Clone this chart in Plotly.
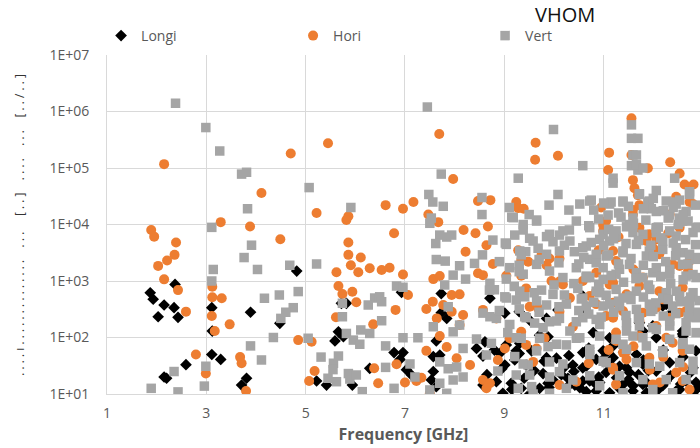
import plotly.graph_objects as go

# Longitudinal modes (black diamonds)
longi_freq = [1.87, 1.93, 2.37, 2.15, 2.35, 2.03, 2.43, 3.11, 3.89, 3.12, 4.48, 4.82, 3.11, 3.29, 2.59,
              2.15, 2.20, 3.81, 3.71,
              5.72, 5.82, 5.66, 5.59, 5.76, 6.93, 7.73, 7.73, 7.84, 6.78, 6.96, 7.63, 7.70, 7.57, 7.03,
              7.13, 6.29, 7.57, 7.53, 7.63, 5.22, 5.42, 5.94, 6.90,
              8.71, 9.01, 9.30, 9.51, 10.08, 9.85, 8.44, 8.61, 8.91, 9.04, 9.31, 9.71, 9.88, 9.21, 9.01,
              9.44, 10.05, 10.21, 10.38, 9.78, 9.98, 10.28, 10.42, 8.57, 8.84, 9.14, 9.34, 9.71, 9.88,
              9.51, 8.97, 8.57, 9.24, 9.55, 9.85,
              10.58, 10.72, 10.85, 10.32, 10.52, 10.99, 11.19, 11.26, 11.39, 11.59, 11.79, 12.06, 12.26,
              12.46, 12.66, 12.80, 11.79, 11.66, 12.26, 12.33, 11.12, 12.59,
              10.58, 10.65, 10.79, 10.58, 10.85, 11.05, 10.65, 11.19, 11.32, 10.92, 11.59, 11.86, 12.19,
              11.12, 11.86, 12.53, 12.80, 12.86, 11.52, 12.33, 11.99, 12.19, 11.72, 12.60,
              11.79, 12.06, 12.59, 11.12, 11.46, 10.58, 10.85, 12.86,
              8.65, 8.95, 9.15, 9.40, 9.60, 9.90, 10.15, 10.40, 10.65, 10.90, 11.05, 11.30, 11.50, 11.70,
              11.90, 12.10, 12.35, 12.55, 12.75, 12.90,
              8.80, 9.30, 9.80, 10.30, 10.70, 11.00, 11.40, 11.80, 12.20, 12.60]
longi_val = [620, 475, 870, 376, 337, 233, 228, 337, 280, 130, 178, 1500, 50, 41, 33,
             20, 19, 19, 14.4,
             403, 403, 126, 87, 103, 630, 600, 275, 218, 54, 54, 87, 49, 46, 27,
             21.7, 28.5, 25, 17.7, 13.5, 17, 14.4, 14.4, 41,
             495, 270, 287, 203, 308, 218, 64, 84, 52.5, 74, 79, 110, 103, 40, 32.6,
             32.6, 43, 30, 32.6, 23, 17.7, 19, 14.4, 14.4, 16.5, 15.5, 12.6, 12.6, 15.5,
             10, 10.3, 47, 58, 58, 44,
             29, 17, 11.3, 14.8, 12.9, 58, 44, 19.4, 14.8, 11.3, 14.8, 25.5, 17,
             11.3, 17, 29, 33.6, 50, 387, 256, 99, 130,
             542, 275, 122, 54, 41, 54, 31, 71, 31, 16, 14, 16, 14,
             10.5, 10.5, 12, 10.5, 16, 24, 36, 160, 361, 183, 106,
             130, 99, 115, 34, 29, 17, 14.8, 58,
             22, 28, 12, 19, 26, 13, 22, 25, 11, 20, 24, 13, 18, 22,
             26, 12, 21, 15, 24, 13,
             60, 52, 38, 48, 65, 42, 55, 40, 60, 45]

# Horizontal modes (orange circles)
hori_freq = [2.15, 4.70, 4.11, 3.29, 3.88, 4.49, 1.89, 1.95, 2.39, 2.36, 2.21, 2.03, 2.15, 2.43, 3.12,
             3.12, 3.31, 2.59, 3.11, 3.47, 3.17, 2.79, 3.68, 3.71, 2.99, 3.80, 4.85,
             5.45, 7.69, 5.22, 5.86, 5.82, 6.61, 6.96, 7.17, 7.47, 7.67, 6.78, 5.86, 5.86, 6.11, 5.91,
             6.06, 6.29, 6.53, 6.69, 5.62, 6.96, 7.57, 7.70, 5.66, 5.74, 5.94, 6.02, 7.06, 5.61, 6.81,
             6.36, 7.43, 7.56, 7.77, 7.64, 5.12, 7.70, 7.84, 7.43, 6.83, 5.18, 5.07, 6.38, 6.46, 7.00,
             7.23, 7.33, 7.50,
             9.63, 9.62, 10.08, 7.97, 8.47, 8.72, 9.24, 9.28, 9.39, 8.18, 8.42, 8.67, 8.64, 8.22, 8.77,
             8.47, 8.57, 9.28, 9.34, 9.48, 9.75, 9.91, 10.11, 9.85, 9.04, 9.34, 9.44, 9.95, 10.11, 8.10,
             7.94, 7.94, 8.17, 8.10, 8.57, 8.84, 9.51, 9.68, 9.34, 9.11, 9.01, 9.44, 9.65, 9.81, 9.58,
             8.04, 8.31, 8.87, 8.57, 8.71, 8.64, 10.11, 10.45, 10.11, 10.38,
             11.56, 11.11, 11.09, 11.56, 11.89, 12.34, 12.53, 12.63, 12.81, 11.59, 11.62, 11.69, 10.95,
             10.99, 11.59, 11.72, 12.46, 12.73,
             10.99, 12.06, 11.86, 10.85, 11.19, 11.72, 12.53, 10.72, 11.19, 11.05, 11.79, 12.19, 12.53,
             12.06, 11.25, 11.72, 11.39, 12.39, 11.19, 11.93, 12.13, 12.46, 12.73, 11.46,
             11.05, 11.59, 11.72, 11.92, 11.86, 12.33, 12.53, 12.80, 11.19, 11.25, 12.12, 12.39, 12.73,
             11.12, 11.46, 11.79, 12.12, 12.59, 10.85, 11.19, 11.39, 11.72, 12.06, 12.33, 12.66,
             11.25, 11.46, 11.19, 11.92, 12.26, 12.59, 11.99, 12.59, 11.25, 10.58, 10.85, 10.18, 10.32,
             10.90, 11.30, 11.60, 12.00, 12.30, 12.70, 10.70, 11.10, 11.60, 12.20, 12.60]
hori_val = [117000, 180000, 36000, 11000, 9200, 5500, 8000, 6100, 4800, 2900, 2300, 1850, 1070, 690, 790,
            515, 495, 287, 240, 171, 130, 50, 45, 35, 23, 11.3, 90,
            275000, 400000, 16000, 14000, 12000, 22000, 19000, 25000, 15000, 11000, 7000, 4800, 2900, 2600, 1900,
            1430, 1680, 1570, 1720, 1430, 1300, 1080, 1230, 815, 590, 645, 420, 565, 228, 308,
            171, 320, 430, 376, 218, 84, 106, 68, 58, 33.6, 25.5, 17, 28.5, 15.5, 16,
            17, 19.4, 10.2,
            280000, 140000, 165000, 64000, 26000, 27000, 25000, 19500, 19000, 8000, 7000, 9200, 4300, 3300, 2000,
            1370, 1270, 3500, 2300, 2200, 2900, 2500, 2500, 1900, 1240, 1240, 740, 1000, 975, 580,
            565, 287, 250, 166, 308, 218, 350, 330, 126, 97, 64, 74, 64, 97, 37,
            43, 32.6, 40, 17.7, 15.5, 12.6, 14.4, 16.5, 287, 155,
            760000, 187000, 92000, 170000, 99000, 126000, 80000, 51000, 51000, 61000, 44000, 33000, 20000,
            9800, 18000, 22000, 31000, 25000,
            7700, 5460, 6250, 1400, 933, 815, 1840, 542, 413, 240, 275, 473, 275,
            160, 122, 106, 54, 81, 27, 27, 16, 24, 12, 41,
            11500, 15000, 8800, 6700, 5100, 15000, 8800, 23000, 3400, 2250, 2970, 1970, 2250,
            870, 580, 1150, 660, 760, 390, 224, 293, 196, 337, 224, 293,
            87, 58, 29, 44, 99, 58, 14.8, 17, 14.8, 1000, 660, 870, 500,
            3500, 6000, 1600, 3800, 7000, 1500, 35, 60, 70, 45, 30]

# Vertical modes (grey squares)
vert_freq = [2.38, 2.99, 3.27, 3.71, 3.81, 3.83, 3.11, 3.91, 3.76, 4.03, 3.14, 3.11, 4.68, 4.85, 4.47,
             4.17, 4.75, 4.60, 4.50, 4.35, 3.89, 4.11, 2.35, 2.99, 1.89, 2.43, 2.96,
             7.45, 5.07, 5.91, 7.73, 7.48, 7.56, 7.77, 7.53, 7.50, 7.70, 7.84, 7.62, 5.22, 7.63, 7.81,
             6.83, 6.96, 7.80, 6.39, 6.49, 6.53, 6.26, 5.74, 5.74, 6.53, 6.11, 6.29, 5.82, 5.96, 6.09,
             5.05, 6.96, 7.26, 6.61, 5.31, 5.56, 5.66, 5.55, 5.45, 5.62, 5.86, 5.89, 6.02, 6.61, 7.10,
             7.20, 6.14, 6.78, 7.50, 7.70, 7.84, 7.70, 7.87, 7.57, 7.87,
             9.99, 9.28, 10.08, 8.55, 8.55, 9.15, 9.65, 7.94, 8.77, 9.02, 9.21, 9.38, 9.51, 9.68, 9.85,
             9.98, 10.11, 10.31, 10.21, 10.41, 9.43, 9.34, 8.56, 8.40, 8.10, 7.97, 8.22, 8.71, 8.70,
             9.04, 9.30, 9.01, 9.24, 9.41, 9.75, 9.85, 10.21, 10.48, 8.57, 8.71, 8.84, 9.41, 9.61, 9.91,
             10.11, 8.10, 7.97, 9.07, 9.34, 9.71, 9.88, 10.25, 8.17, 8.44, 8.64, 8.74, 9.21, 9.48, 9.91,
             8.04, 8.17, 7.97, 8.87, 9.24, 9.51, 9.91, 10.11, 10.38, 10.25, 9.28, 9.55, 9.91, 9.58,
             10.45, 10.45,
             11.56, 11.56, 11.69, 11.59, 11.66, 10.58, 11.56, 11.69, 11.19, 11.19, 12.43, 11.72, 12.06,
             12.73, 10.75, 11.15, 11.39, 11.89, 11.96, 12.39, 12.53, 11.09, 11.59, 12.33, 12.53, 11.46,
             12.06, 12.53,
             10.65, 10.92, 11.25, 11.59, 12.06, 12.46, 12.80, 10.72, 11.05, 11.39, 11.86, 12.19, 12.60,
             12.86, 10.65, 10.99, 11.32, 11.66, 11.99, 12.33, 12.66, 10.92, 11.25, 11.52, 11.93, 12.26,
             12.53, 12.80, 10.65, 10.99, 11.32, 11.66, 11.99, 12.39, 12.73, 10.85, 11.46, 11.72, 12.06,
             12.33, 12.66, 12.86, 10.92, 11.25, 11.59, 12.33, 12.60, 10.72, 11.46, 11.86, 12.19, 12.73,
             11.05, 11.66, 12.13, 12.53, 12.80, 10.72, 11.32, 11.79, 12.26, 12.66, 10.92, 11.99, 12.39,
             11.39,
             10.52, 10.72, 11.12, 11.39, 11.66, 11.79, 11.72, 11.92, 12.06, 12.26, 12.46, 12.66, 12.73,
             9.18, 9.38, 9.65, 9.91, 10.18, 10.45, 10.72, 10.99, 11.25, 11.52, 11.79, 12.06, 12.33, 12.59, 12.86,
             9.04, 9.31, 9.58, 9.85, 10.11, 10.32, 10.58, 10.85, 11.12, 11.39, 11.66, 11.92, 12.19, 12.46, 12.73,
             9.11, 9.38, 9.65, 9.91, 10.18, 10.45, 10.72, 10.99, 11.25, 11.52, 11.79, 12.06, 12.33, 12.59, 12.86,
             9.04, 9.31, 9.65, 9.98, 10.25, 10.58, 10.85, 11.12, 11.39, 11.66, 11.92, 12.19, 12.46, 12.73,
             9.11, 9.44, 9.78, 10.05, 10.32, 10.58, 10.92, 11.46, 11.72, 11.99, 12.33, 12.66, 12.86,
             9.24, 9.65, 10.05, 10.52, 10.72, 11.39, 11.79, 12.19, 12.59, 12.80, 9.38, 10.18, 10.99, 11.92,
             10.80, 11.00, 11.30, 11.50, 11.80, 12.00, 12.20, 12.40, 12.60, 12.85,
             10.70, 10.90, 11.10, 11.35, 11.60, 11.85, 12.10, 12.30, 12.50, 12.70, 12.90,
             10.75, 11.00, 11.20, 11.45, 11.70, 11.95, 12.15, 12.40, 12.65, 12.85,
             10.60, 10.85, 11.10, 11.30, 11.55, 11.80, 12.00, 12.25, 12.45, 12.70, 12.90,
             10.65, 10.90, 11.15, 11.40, 11.65, 11.90, 12.15, 12.35, 12.60, 12.80,
             10.55, 10.80, 11.05, 11.30, 11.55, 11.80, 12.05, 12.30, 12.55, 12.75, 12.92,
             10.70, 10.95, 11.20, 11.45, 11.70, 11.95, 12.20, 12.45, 12.70, 12.90,
             9.10, 9.50, 9.90, 10.30, 8.90, 9.30, 9.70, 10.10, 10.50,
             8.80, 9.20, 9.60, 10.00, 10.40, 8.90, 9.30, 9.70, 10.10, 10.50]
vert_val = [1400000, 520000, 200000, 78000, 84000, 19000, 8900, 4300, 2600, 1600, 1600, 1000, 1900, 650, 565,
            495, 337, 280, 218, 100, 71, 40, 25, 31, 12.6, 10.9, 13.8,
            1200000, 45000, 20000, 78000, 34000, 25000, 21000, 13000, 10500, 6500, 6000, 4600, 2000, 2400, 2250,
            815, 775, 850, 500, 525, 430, 376, 403, 233, 198, 136, 118, 118, 90, 76,
            97, 99, 99, 71, 45, 35, 47, 27, 19, 16.5, 23, 18.4, 21.7, 29.6, 34,
            20, 11, 12.6, 11.8, 15.5, 10.3, 37, 28, 155, 350,
            480000, 66000, 34000, 30000, 15000, 13500, 12000, 6500, 5300, 4700, 6500, 8000, 5700, 3800, 6100,
            4950, 6500, 8000, 4300, 3300, 3300, 2900, 2900, 2050, 1860, 1270, 1080, 910, 690,
            1080, 1460, 525, 460, 525, 690, 376, 565, 740, 270, 233, 218, 233, 180, 190,
            218, 166, 126, 122, 97, 97, 69, 74, 64, 94, 49, 79, 46, 32.6, 37,
            30, 20, 17.7, 25.5, 21.7, 21.7, 20, 24.8, 17.7, 12.6, 12.6, 13.5, 10.3, 10,
            97, 190,
            580000, 335000, 335000, 170000, 170000, 110000, 110000, 92000, 66000, 54000, 66000, 35000, 40000,
            38000, 27000, 25000, 25000, 25000, 19000, 25000, 27000, 14700, 13000, 14700, 13000, 9100,
            8500, 11000,
            4160, 5460, 6250, 7200, 7200, 6250, 7200, 2420, 2770, 3170, 2770, 3630, 3170,
            2420, 1220, 1070, 1610, 1400, 1400, 1610, 1220, 621, 711, 542, 711, 621,
            542, 621, 361, 361, 361, 315, 315, 361, 315, 209, 183, 160, 139,
            160, 183, 122, 106, 93, 106, 93, 81, 62, 62, 71, 54, 62,
            36, 36, 31, 36, 27, 21, 21, 18, 18, 18, 14, 12, 10.5,
            10.5,
            23000, 26000, 23000, 26000, 115000, 100000, 34000, 26000, 17000, 26000, 23000, 17000, 34000,
            13200, 10000, 11500, 6700, 7700, 11500, 8800, 6700, 7700, 10000, 6700, 8800, 7700, 11500, 8800,
            4450, 3400, 5100, 2970, 3400, 5100, 3880, 2970, 5100, 3400, 4450, 3400, 5100, 3880, 2970,
            1720, 1320, 1970, 1500, 1150, 1720, 1150, 1720, 1320, 1970, 1150, 1720, 1320, 1970, 1150,
            500, 660, 445, 580, 390, 500, 660, 390, 500, 660, 390, 500, 660, 445,
            170, 224, 149, 196, 130, 224, 170, 130, 224, 149, 196, 130, 224,
            99, 58, 76, 99, 50, 76, 99, 58, 76, 38, 34, 34, 38, 34,
            18000, 24000, 16000, 21000, 19000, 29000, 17500, 20000, 15000, 22000,
            9500, 12500, 8200, 13500, 10500, 12000, 9000, 13000, 10000, 11500, 9000,
            4800, 4200, 5600, 4600, 5200, 4300, 5800, 4700, 5400, 4400,
            2600, 2100, 2900, 2000, 2500, 1900, 2700, 2200, 2800, 2000, 2600,
            1150, 880, 1250, 950, 1100, 850, 1200, 900, 1050, 1300,
            480, 420, 560, 440, 470, 520, 410, 470, 430, 520, 450,
            260, 230, 280, 245, 220, 290, 240, 265, 230, 280,
            20000, 15000, 22000, 18000, 2200, 1900, 2400, 2100, 2000,
            700, 800, 620, 850, 900, 300, 320, 280, 350, 300]

y_ticks = [1e1, 1e2, 1e3, 1e4, 1e5, 1e6, 1e7]
y_tick_text = ["1E+01", "1E+02", "1E+03", "1E+04", "1E+05", "1E+06", "1E+07"]
x_ticks = [1, 3, 5, 7, 9, 11, 13]

FONT = "Open Sans"
TXT = "#595959"
GRID = "#D9D9D9"

fig = go.Figure()
fig.add_trace(go.Scatter(x=longi_freq, y=longi_val, mode="markers", name="Longi",
                         marker=dict(symbol="diamond", size=9, color="#000000")))
fig.add_trace(go.Scatter(x=hori_freq, y=hori_val, mode="markers", name="Hori",
                         marker=dict(symbol="circle", size=10, color="#ED7D31")))
fig.add_trace(go.Scatter(x=vert_freq, y=vert_val, mode="markers", name="Vert",
                         marker=dict(symbol="square", size=9.5, color="#A5A5A5")))

fig.update_layout(
    width=700, height=448,
    margin=dict(l=107, r=0, t=55, b=54),
    paper_bgcolor="white", plot_bgcolor="white",
    font=dict(family=FONT, size=14, color=TXT),
    showlegend=True,
    legend=dict(orientation="h", x=-0.01, xanchor="left", y=1.056, yanchor="middle",
                entrywidth=147, entrywidthmode="pixels",
                font=dict(family=FONT, size=14, color=TXT), bgcolor="rgba(0,0,0,0)"),
    xaxis=dict(range=[1, 12.94], tickvals=x_ticks, showgrid=True, gridcolor=GRID, gridwidth=1,
               zeroline=False, showline=True, linecolor=GRID, linewidth=1, ticks="",
               ticklabelstandoff=6,
               tickfont=dict(family=FONT, size=14, color=TXT),
               title=dict(text="<b>Frequency [GHz]</b>", standoff=8,
                          font=dict(family=FONT, size=16, color=TXT))),
    yaxis=dict(type="log", range=[1, 7], tickvals=y_ticks, ticktext=y_tick_text,
               showgrid=True, gridcolor=GRID, gridwidth=1, zeroline=False,
               showline=True, linecolor=GRID, linewidth=1, ticks="", ticklabelstandoff=14,
               tickfont=dict(family=FONT, size=14, color=TXT)),
    annotations=[
        dict(text="VHOM", x=0.772, y=1.12, xref="paper", yref="paper", xanchor="center",
             yanchor="middle", showarrow=False, font=dict(family=FONT, size=20, color="#111111")),
        dict(text=". . . . ı . . . . . . . . . . . . . .    . . .     [ . . ]    . . . .    . . .    [ . . / . . ]",
             x=-0.148, y=0.50, xref="paper",
             yref="paper", xanchor="center", yanchor="middle", textangle=-90, showarrow=False,
             font=dict(family=FONT, size=12, color="#333333")),
    ],
)

fig.write_html("out.html")
